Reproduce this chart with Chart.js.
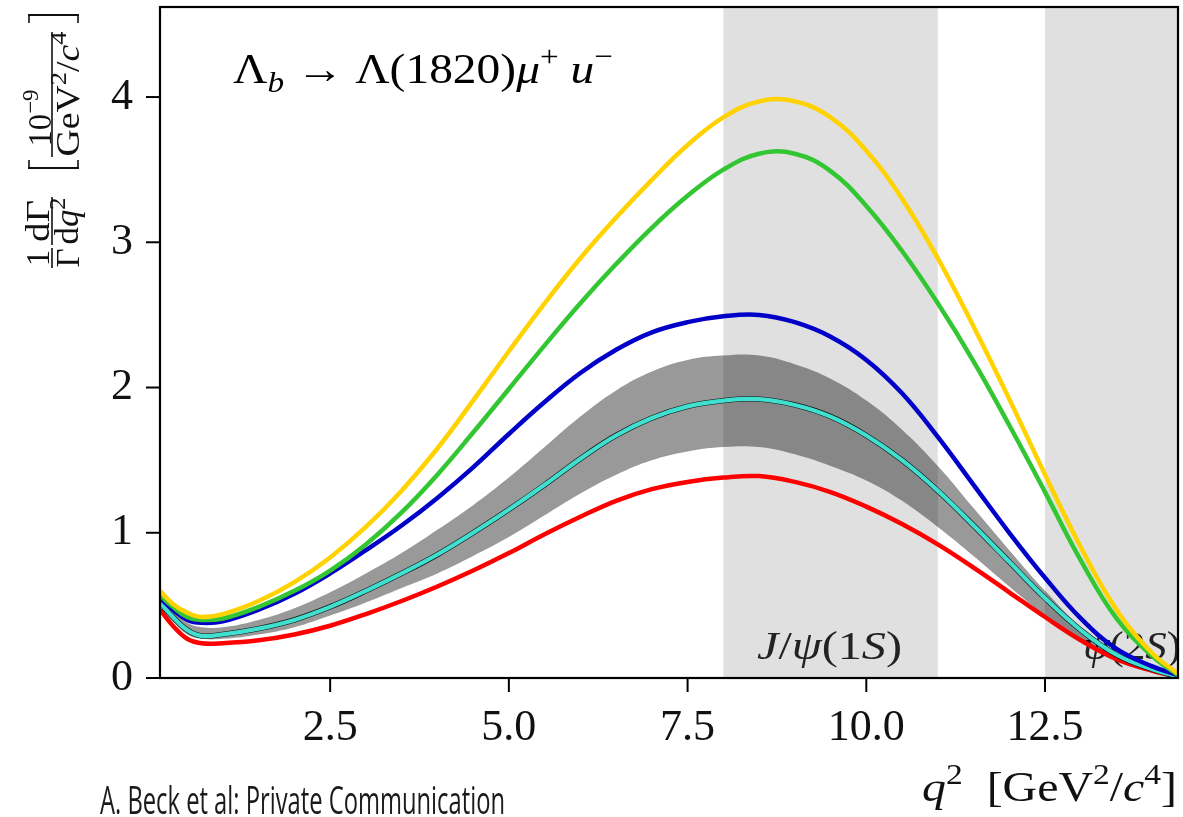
<!DOCTYPE html>
<html><head><meta charset="utf-8">
<script src="https://cdn.jsdelivr.net/npm/chart.js@4.4.1/dist/chart.umd.min.js"></script>
<style>html,body{margin:0;padding:0;background:#fff;}canvas{display:block;}</style>
</head><body>
<canvas id="c" width="1183" height="817"></canvas>
<script>
// ---------- data ----------
const q2 = [0.12,0.3,0.5,0.7,1.0,1.5,2.0,2.5,3.0,3.5,4.0,4.5,5.0,5.5,6.0,6.5,7.0,7.5,8.0,8.5,9.0,9.5,10.0,10.5,11.0,11.5,12.0,12.5,13.0,13.5,14.0,14.36];
const yellowSeries = [0.60,0.51,0.45,0.42,0.44,0.53,0.66,0.83,1.04,1.29,1.58,1.91,2.25,2.58,2.89,3.17,3.43,3.67,3.86,3.97,3.97,3.86,3.63,3.30,2.89,2.42,1.92,1.40,0.90,0.47,0.17,0.03];
const greenSeries  = [0.57,0.49,0.42,0.40,0.41,0.49,0.60,0.74,0.92,1.14,1.40,1.69,1.99,2.29,2.58,2.85,3.10,3.32,3.50,3.61,3.61,3.49,3.25,2.94,2.58,2.18,1.74,1.28,0.81,0.41,0.15,0.02];
const blueSeries   = [0.55,0.47,0.40,0.38,0.39,0.47,0.58,0.72,0.88,1.05,1.24,1.45,1.68,1.90,2.10,2.26,2.38,2.45,2.49,2.50,2.45,2.35,2.19,1.96,1.66,1.33,1.00,0.69,0.41,0.20,0.08,0.02];
const cyanSeries   = [0.52,0.42,0.33,0.29,0.30,0.34,0.40,0.49,0.60,0.72,0.85,1.00,1.16,1.33,1.51,1.67,1.79,1.87,1.91,1.92,1.88,1.80,1.67,1.50,1.29,1.05,0.80,0.55,0.33,0.16,0.06,0.01];
const bandUpper    = [0.55,0.46,0.38,0.35,0.35,0.40,0.48,0.59,0.72,0.86,1.02,1.19,1.38,1.59,1.80,1.98,2.11,2.19,2.22,2.22,2.16,2.06,1.91,1.71,1.46,1.17,0.88,0.60,0.35,0.16,0.06,0.01];
const bandLower    = [0.49,0.39,0.30,0.27,0.27,0.30,0.35,0.43,0.52,0.62,0.72,0.84,0.97,1.12,1.27,1.40,1.50,1.56,1.59,1.59,1.54,1.46,1.36,1.22,1.04,0.84,0.63,0.43,0.25,0.12,0.05,0.01];
const redSeries    = [0.47,0.36,0.27,0.24,0.24,0.26,0.30,0.36,0.44,0.53,0.63,0.74,0.86,0.99,1.11,1.22,1.30,1.35,1.38,1.39,1.35,1.28,1.18,1.06,0.92,0.76,0.59,0.42,0.26,0.13,0.05,0.01];
const resonanceRegions = [[8.0, 11.0], [12.5, 14.36]];
const xRange = [0.12, 14.36];
const yRange = [0, 4.62];
const xMajorTicks = [2.5, 5.0, 7.5, 10.0, 12.5];
const yMajorTicks = [0, 1, 2, 3, 4];

// ---------- helpers ----------
const SERIF = '"Liberation Serif", "DejaVu Serif", serif';
function segFont(s, size, fam){ const sz = (s.sup||s.sub) ? size*0.7 : size; return (s.it?'italic ':'') + sz.toFixed(1) + 'px ' + fam; }
function drawRich(ctx, segs, x, y, size, fam, align, fitW){
  ctx.save();
  const ws = []; let w = 0;
  for (const s of segs){ ctx.font = segFont(s,size,fam); const m = ctx.measureText(s.t).width; ws.push(m); w += m; }
  const sx = fitW ? fitW / w : 1;
  ctx.translate(x, y); ctx.scale(sx, 1);
  let cx = align === 'center' ? -w/2 : (align === 'right' ? -w : 0);
  ctx.textAlign = 'left'; ctx.textBaseline = 'alphabetic';
  segs.forEach((s,i)=>{ ctx.font = segFont(s,size,fam); const dy = s.sup ? -0.4*size : (s.sub ? 0.22*size : 0); ctx.fillText(s.t, cx, dy); cx += ws[i]; });
  ctx.restore();
}
function rot(ctx, segs, cx, cy, size, fitW){
  ctx.save(); ctx.translate(cx, cy); ctx.rotate(-Math.PI/2);
  drawRich(ctx, segs, 0, 0.33*size, size, SERIF, 'center', fitW);
  ctx.restore();
}
function seg(ctx, x1,y1,x2,y2,w){ ctx.lineWidth = w; ctx.beginPath(); ctx.moveTo(x1,y1); ctx.lineTo(x2,y2); ctx.stroke(); }

const isMult = (v, m) => Math.abs(v/m - Math.round(v/m)) < 1e-6;

const decorPlugin = {
  id: 'decor',
  beforeDatasetsDraw(chart){
    const ctx = chart.ctx, ca = chart.chartArea, xs = chart.scales.x;
    ctx.save();
    ctx.beginPath(); ctx.rect(ca.left, ca.top, ca.width, ca.height); ctx.clip();
    ctx.fillStyle = '#e0e0e0';
    for (const [a,b] of resonanceRegions){ const x1 = xs.getPixelForValue(a), x2 = xs.getPixelForValue(b); ctx.fillRect(x1, ca.top, x2-x1, ca.height); }
    ctx.restore();
    ctx.save();
    ctx.fillStyle = '#222';
    drawRich(ctx, [{t:'J',it:1},{t:'/'},{t:'ψ',it:1},{t:'(1'},{t:'S',it:1},{t:')'}], 757, 659, 40, SERIF, 'left', 145);
    drawRich(ctx, [{t:'ψ',it:1},{t:'(2'},{t:'S',it:1},{t:')'}], 1083, 659, 40, SERIF, 'left', 98);
    ctx.restore();
  },
  afterDraw(chart){
    const ctx = chart.ctx, ca = chart.chartArea, xs = chart.scales.x, ys = chart.scales.y;
    ctx.save();
    ctx.strokeStyle = '#000'; ctx.fillStyle = '#000';
    for (const t of xs.ticks){ const px = xs.getPixelForValue(t.value); const maj = isMult(t.value, 2.5); seg(ctx, px, ca.bottom, px, ca.bottom + (maj?14:7), maj?2:1.6); }
    for (const t of ys.ticks){ const py = ys.getPixelForValue(t.value); const maj = isMult(t.value, 1); seg(ctx, ca.left, py, ca.left - (maj?14:8), py, maj?2:1.6); }
    ctx.lineWidth = 2.2; ctx.strokeRect(ca.left, ca.top, ca.width, ca.height);
    // title
    ctx.fillStyle = '#000';
    drawRich(ctx, [{t:'Λ'},{t:'b',it:1,sub:1},{t:' → '},{t:'Λ(1820)'},{t:'μ',it:1},{t:'+',sup:1},{t:' '},{t:'u',it:1},{t:'−',sup:1}], 233, 83, 42, SERIF, 'left', 380);
    // x title
    ctx.fillStyle = '#111';
    drawRich(ctx, [{t:'q',it:1},{t:'2',sup:1},{t:'  [GeV'},{t:'2',sup:1},{t:'/'},{t:'c',it:1},{t:'4',sup:1},{t:']'}], 922, 801, 42, SERIF, 'left', 255);
    // y title
    ctx.strokeStyle = '#111';
    seg(ctx, 52, 248, 52, 268, 1.6);
    seg(ctx, 52, 197, 52, 245, 1.6);
    seg(ctx, 52, 32, 52, 157, 1.6);
    rot(ctx, [{t:'1'}], 38, 258, 33);
    rot(ctx, [{t:'Γ'}], 68, 258, 33);
    rot(ctx, [{t:'dΓ'}], 38, 221, 33, 42);
    rot(ctx, [{t:'d'},{t:'q',it:1},{t:'2',sup:1}], 67, 221, 33, 47);
    rot(ctx, [{t:'10'},{t:'−9',sup:1}], 40, 118, 33, 57);
    rot(ctx, [{t:'GeV'},{t:'2',sup:1},{t:'/'},{t:'c',it:1},{t:'4',sup:1}], 68, 94, 33, 125);
    seg(ctx, 28, 168, 79, 168, 2); seg(ctx, 29, 168.5, 29, 160, 1.6); seg(ctx, 78, 168.5, 78, 160, 1.6);
    seg(ctx, 28, 15, 79, 15, 2); seg(ctx, 29, 14.5, 29, 23, 1.6); seg(ctx, 78, 14.5, 78, 23, 1.6);
    // credit
    ctx.fillStyle = '#1a1a1a';
    drawRich(ctx, [{t:'A. Beck et al: Private Communication'}], 100, 814, 39, '"Open Sans", Lato, sans-serif', 'left', 405);
    ctx.restore();
  }
};

function pts(arr){ return q2.map((x,i)=>({x:x, y:arr[i]})); }

new Chart(document.getElementById('c'), {
  type: 'line',
  data: { datasets: [
    {label:'yellow', data: pts(yellowSeries), borderColor:'#FFD200', borderWidth:4.5},
    {label:'green', data: pts(greenSeries), borderColor:'#33C633', borderWidth:4.5},
    {label:'blue', data: pts(blueSeries), borderColor:'#0000C8', borderWidth:4.5},
    {label:'cyan', data: pts(cyanSeries), borderColor:'#40E0D0', borderWidth:4.2},
    {label:'central', data: pts(cyanSeries), borderColor:'#111', borderWidth:5.4},
    {label:'red', data: pts(redSeries), borderColor:'#FF0000', borderWidth:4.5},
    {label:'bandUpper', data: pts(bandUpper), borderWidth:0, borderColor:'rgba(0,0,0,0)', fill:'+1', backgroundColor:'rgba(8,8,8,0.41)'},
    {label:'bandLower', data: pts(bandLower), borderWidth:0, borderColor:'rgba(0,0,0,0)', fill:false}
  ]},
  options: {
    responsive: false, animation: false, events: [],
    layout: { padding: { top: 7, right: 5, left: 0, bottom: 0 } },
    elements: { point: { radius: 0 }, line: { tension: 0.4, fill: false } },
    plugins: { legend: { display: false }, tooltip: { enabled: false }, title: { display: false } },
    scales: {
      x: {
        type: 'linear', min: xRange[0], max: xRange[1],
        grid: { display: false, drawTicks: false }, border: { display: false },
        ticks: { stepSize: 0.5, includeBounds: false, autoSkip: false, maxRotation: 0, padding: 24, color: '#111',
          font: { family: SERIF, size: 44 },
          callback: v => xMajorTicks.some(m => Math.abs(m - v) < 1e-6) ? v.toFixed(1) : null },
        afterFit: s => { s.height = 139; s.paddingLeft = 0; s.paddingRight = 0; }
      },
      y: {
        type: 'linear', min: yRange[0], max: yRange[1],
        grid: { display: false, drawTicks: false }, border: { display: false },
        ticks: { stepSize: 0.2, includeBounds: false, autoSkip: false, padding: 27, color: '#111',
          font: { family: SERIF, size: 44 },
          callback: v => yMajorTicks.some(m => Math.abs(m - v) < 1e-6) ? String(Math.round(v)) : null },
        afterFit: s => { s.width = 160; s.paddingTop = 0; s.paddingBottom = 0; }
      }
    }
  },
  plugins: [decorPlugin]
});
</script>
</body></html>
